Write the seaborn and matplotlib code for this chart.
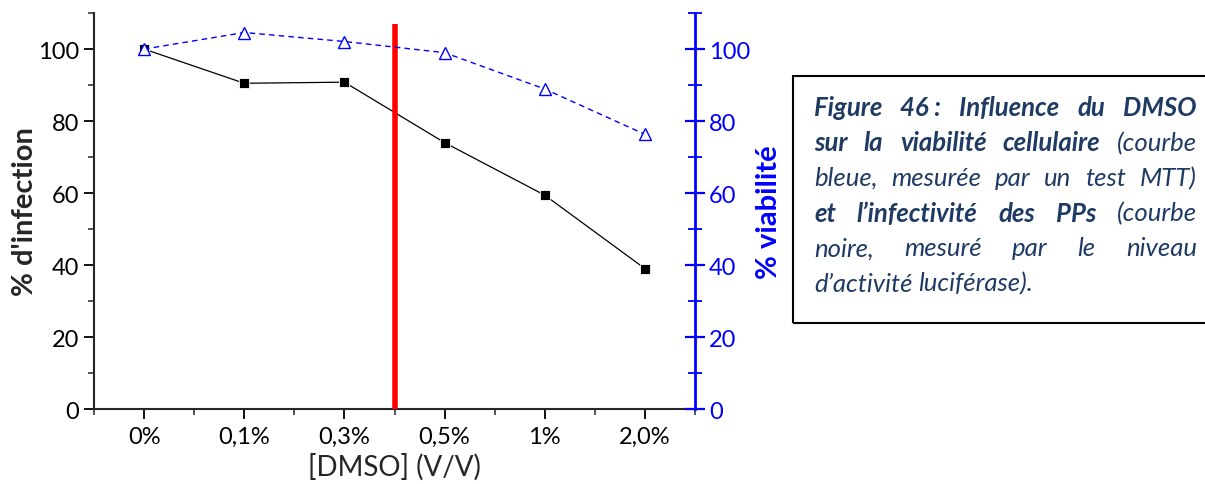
import matplotlib
matplotlib.use("Agg")
import matplotlib.pyplot as plt
from matplotlib.ticker import MultipleLocator, FixedLocator
from matplotlib.patches import Rectangle
import seaborn as sns
import pandas as pd

# data
doses = ["0%", "0,1%", "0,3%", "0,5%", "1%", "2,0%"]
infection = [100, 90.5, 90.8, 74.0, 59.4, 39.0]
viability = [100, 104.6, 102.1, 99.0, 88.9, 76.3]
cutoff_pos = 2.5      # red vertical line between 0,3% and 0,5%
cutoff_top = 107

df = pd.DataFrame({"pos": range(len(doses)), "dose": doses,
                   "infection": infection, "viability": viability})

sns.set_style("ticks")
plt.rcParams["font.family"] = ["Lato", "DejaVu Sans"]

fig = plt.figure(figsize=(12.05, 4.85), dpi=100)
ax = fig.add_axes([0.078, 0.1546, 0.4988, 0.8164])
ax2 = ax.twinx()

sns.lineplot(data=df, x="pos", y="infection", ax=ax, sort=False, color="black",
             lw=0.9, marker="s", markersize=7, markerfacecolor="black",
             markeredgecolor="white", markeredgewidth=0.6)
sns.lineplot(data=df, x="pos", y="viability", ax=ax2, sort=False, color="blue",
             lw=1, linestyle=(0, (4, 3)), marker="^", markersize=9,
             markerfacecolor="white", markeredgecolor="blue", markeredgewidth=1)
ax.vlines(cutoff_pos, 0, cutoff_top, color="red", lw=4, zorder=5)

for a in (ax, ax2):
    a.set_xlim(-0.5, len(doses) - 0.5)
    a.set_ylim(0, 110)
    a.yaxis.set_major_locator(FixedLocator([0, 20, 40, 60, 80, 100]))
    a.yaxis.set_minor_locator(MultipleLocator(10))
    a.spines["top"].set_visible(False)

ax.set_xticks(df["pos"])
ax.set_xticklabels(doses)
ax.xaxis.set_minor_locator(FixedLocator([p + 0.5 for p in range(-1, len(doses))]))

ax.spines["left"].set_linewidth(1.5)
ax.spines["bottom"].set_linewidth(1.5)
ax.spines["right"].set_visible(False)
ax2.spines["left"].set_visible(False)
ax2.spines["bottom"].set_visible(False)
ax2.spines["right"].set_color("blue")
ax2.spines["right"].set_linewidth(2)

ax.tick_params(axis="both", which="major", direction="out", length=7, width=1.3,
               labelsize=17, colors="black")
ax.tick_params(axis="both", which="minor", direction="out", length=4, width=1.1)
ax.tick_params(axis="x", pad=5)
ax2.tick_params(axis="y", which="major", direction="inout", length=14, width=1.6,
                labelsize=17, colors="blue", pad=3)
ax2.tick_params(axis="y", which="minor", direction="inout", length=10, width=1.3,
                colors="blue")

ax.set_xlabel("[DMSO] (V/V)", fontsize=20, labelpad=4)
ax.set_ylabel("% d'infection", fontsize=21, fontweight="bold", labelpad=0)
ax2.set_ylabel("% viabilité", fontsize=21, fontweight="bold", color="blue",
               labelpad=4)

# caption box
fig.patches.append(Rectangle((793 / 1205, 1 - 324 / 485), 0.36, (324 - 77) / 485,
                             transform=fig.transFigure, fill=False,
                             edgecolor="black", lw=1.5))
cap = "#1f3b64"
fs = 18.5
xl, xr = 814, 1197
B, N = "bold", "normal"

lines = [
    ([("Figure", B), ("46 :", B), ("Influence", B), ("du", B), ("DMSO", B)], True),
    ([("sur", B), ("la", B), ("viabilité", B), ("cellulaire", B), ("(courbe", N)], True),
    ([("bleue,", N), ("mesurée", N), ("par", N), ("un", N), ("test", N), ("MTT)", N)], True),
    ([("et", B), ("l\u2019infectivité", B), ("des", B), ("PPs", B), ("(courbe", N)], True),
    ([("noire,", N), ("mesuré", N), ("par", N), ("le", N), ("niveau", N)], True),
    ([("d\u2019activité", N), ("luciférase).", N)], False),
]
renderer = fig.canvas.get_renderer()
for i, (words, justify) in enumerate(lines):
    yy = 1 - (108 + i * 35.2) / 485
    objs = [fig.text(0, yy, w, fontsize=fs, fontweight=wt, fontstyle="italic",
                     color=cap, ha="left", va="center") for w, wt in words]
    widths = [o.get_window_extent(renderer).width for o in objs]
    if justify:
        gap = (xr - xl - sum(widths)) / (len(objs) - 1)
    else:
        gap = 6
    x = xl
    for o, w in zip(objs, widths):
        o.set_x(x / 1205)
        x += w + gap

fig.savefig("out.png", dpi=100)
